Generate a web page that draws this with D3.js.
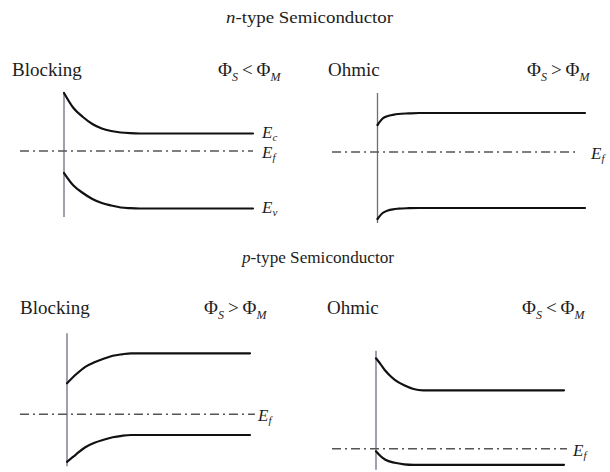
<!DOCTYPE html>
<html>
<head>
<meta charset="utf-8">
<script src="https://cdn.jsdelivr.net/npm/d3@7"></script>
<style>
  html, body { margin: 0; padding: 0; background: #fff; }
  svg { display: block; }
  svg text { font-family: "Liberation Serif", "DejaVu Serif", serif; fill: #1d1d1d; }
</style>
</head>
<body>
<svg id="chart" width="610" height="472" font-family="Liberation Serif, DejaVu Serif, serif"></svg>
<script>
// Row headings: carrier letter (italic) + rest of heading
const rowCarrier = ["n", "p"];
const rowHeading = ["-type Semiconductor", "-type Semiconductor"];

// Panels in row-major order
const contactKinds = ["Blocking", "Ohmic", "Blocking", "Ohmic"];
const workFunctionRelation = ["<", ">", ">", "<"];

// Band-edge profiles: [distance from the metal interface, energy relative to E_f]
const upperBand = [
  [[0, 5.8], [0.5, 4.3], [1, 3.4], [1.5, 2.7], [2, 2.25], [2.5, 2.0], [3, 1.85], [3.5, 1.78], [4, 1.75], [10, 1.75]],
  [[0, 2.7], [0.25, 3.35], [0.5, 3.6], [0.75, 3.72], [1, 3.8], [1.5, 3.86], [2, 3.9], [10, 3.9]],
  [[0, 3.1], [0.5, 4.0], [1, 4.75], [1.5, 5.2], [2, 5.55], [2.5, 5.85], [3, 6.0], [3.5, 6.1], [10, 6.1]],
  [[0, 9.05], [0.25, 8.45], [0.5, 7.8], [0.75, 7.3], [1, 6.9], [1.5, 6.35], [2, 5.98], [2.5, 5.85], [10, 5.85]]
];
const lowerBand = [
  [[0, -2.2], [0.5, -3.45], [1, -4.2], [1.5, -4.8], [2, -5.2], [2.5, -5.45], [3, -5.65], [3.5, -5.72], [4, -5.75], [10, -5.75]],
  [[0, -6.7], [0.25, -6.1], [0.5, -5.85], [0.75, -5.73], [1, -5.67], [1.5, -5.62], [2, -5.6], [10, -5.6]],
  [[0, -4.75], [0.5, -4.0], [1, -3.3], [1.5, -2.85], [2, -2.55], [2.5, -2.3], [3, -2.15], [3.5, -2.07], [10, -2.07]],
  [[0, -0.25], [0.25, -0.75], [0.5, -1.1], [1, -1.4], [1.5, -1.55], [2, -1.6], [10, -1.6]]
];

// Fermi level span (distance) and interface span (energy) per panel
const fermiSpan = [[-2.33, 10], [-2.19, 9.66], [-2.57, 10.27], [-2.34, 10.16]];
const interfaceSpan = [[5.9, -6.6], [5.9, -7.1], [8.1, -5.2], [9.8, -2.1]];

// Band-edge subscripts (null = unlabelled)
const upperLabel = ["c", null, null, null];
const fermiLabel = ["f", "f", "f", "f"];
const lowerLabel = ["v", null, null, null];

// ---- layout ----
const frames = [
  { x0: 64,    x1: 253, ef: 151,   labelX: 262, headY: 76,  kindX: 12,  relX: 218 },
  { x0: 377.5, x1: 585, ef: 152,   labelX: 591, headY: 76,  kindX: 328, relX: 527 },
  { x0: 67,    x1: 250, ef: 414.3, labelX: 258, headY: 314, kindX: 20,  relX: 204 },
  { x0: 376,   x1: 564, ef: 448.8, labelX: 573, headY: 314, kindX: 327, relX: 522 }
];
const titles = [
  { x: 226, y: 23,  len: 167 },
  { x: 242, y: 263, len: 152 }
];
const energyPx = 10;
// baseline offsets of the band labels from their levels
const labelShift = { upper: 4, fermi: 7, lower: 4 };

const svg = d3.select("#chart");

// Row headings
titles.forEach((t, i) => {
  const txt = svg.append("text")
    .attr("x", t.x).attr("y", t.y)
    .attr("font-size", 16)
    .attr("textLength", t.len)
    .attr("lengthAdjust", "spacingAndGlyphs");
  txt.append("tspan").attr("font-style", "italic").text(rowCarrier[i]);
  txt.append("tspan").text(rowHeading[i]);
});

function bandLabel(g, x, y, sub) {
  const t = g.append("text").attr("x", x).attr("y", y).attr("font-size", 17);
  t.append("tspan").attr("font-style", "italic").text("E");
  t.append("tspan").attr("font-style", "italic").attr("font-size", 11).attr("dy", 3).text(sub);
  return t;
}

frames.forEach((f, i) => {
  const g = svg.append("g");
  const x = d3.scaleLinear().domain([0, 10]).range([f.x0, f.x1]);
  const y = d3.scaleLinear().domain([0, 1]).range([f.ef, f.ef - energyPx]);

  // Contact kind
  g.append("text").attr("x", f.kindX).attr("y", f.headY)
    .attr("font-size", 19).text(contactKinds[i]);

  // Work-function relation Φ_S ? Φ_M
  const rel = g.append("text").attr("x", f.relX).attr("y", f.headY).attr("font-size", 19);
  rel.append("tspan").text("Φ");
  rel.append("tspan").attr("font-style", "italic").attr("font-size", 12).attr("dy", 5).text("S");
  rel.append("tspan").attr("dy", -5).attr("dx", 4).text(workFunctionRelation[i]);
  rel.append("tspan").attr("dx", 4).text("Φ");
  rel.append("tspan").attr("font-style", "italic").attr("font-size", 12).attr("dy", 5).text("M");

  // Metal/semiconductor interface
  g.append("line")
    .attr("x1", x(0)).attr("x2", x(0))
    .attr("y1", y(interfaceSpan[i][0])).attr("y2", y(interfaceSpan[i][1]))
    .attr("stroke", "#6e6c80").attr("stroke-width", 1.3);

  // Fermi level
  g.append("line")
    .attr("x1", x(fermiSpan[i][0])).attr("x2", x(fermiSpan[i][1]))
    .attr("y1", y(0)).attr("y2", y(0))
    .attr("stroke", "#555").attr("stroke-width", 1.5)
    .attr("stroke-dasharray", "9,4,2,4");

  // Band edges
  const line = d3.line().x(d => x(d[0])).y(d => y(d[1])).curve(d3.curveMonotoneX);
  [upperBand[i], lowerBand[i]].forEach(band => {
    g.append("path").attr("d", line(band))
      .attr("fill", "none").attr("stroke", "#111")
      .attr("stroke-width", 2.2).attr("stroke-linecap", "round");
  });

  // Band labels beside their levels
  const up = upperBand[i][upperBand[i].length - 1][1];
  const lo = lowerBand[i][lowerBand[i].length - 1][1];
  if (upperLabel[i]) bandLabel(g, f.labelX, y(up) + labelShift.upper, upperLabel[i]);
  if (fermiLabel[i]) bandLabel(g, f.labelX, y(0) + labelShift.fermi, fermiLabel[i]);
  if (lowerLabel[i]) bandLabel(g, f.labelX, y(lo) + labelShift.lower, lowerLabel[i]);
});
</script>
</body>
</html>
